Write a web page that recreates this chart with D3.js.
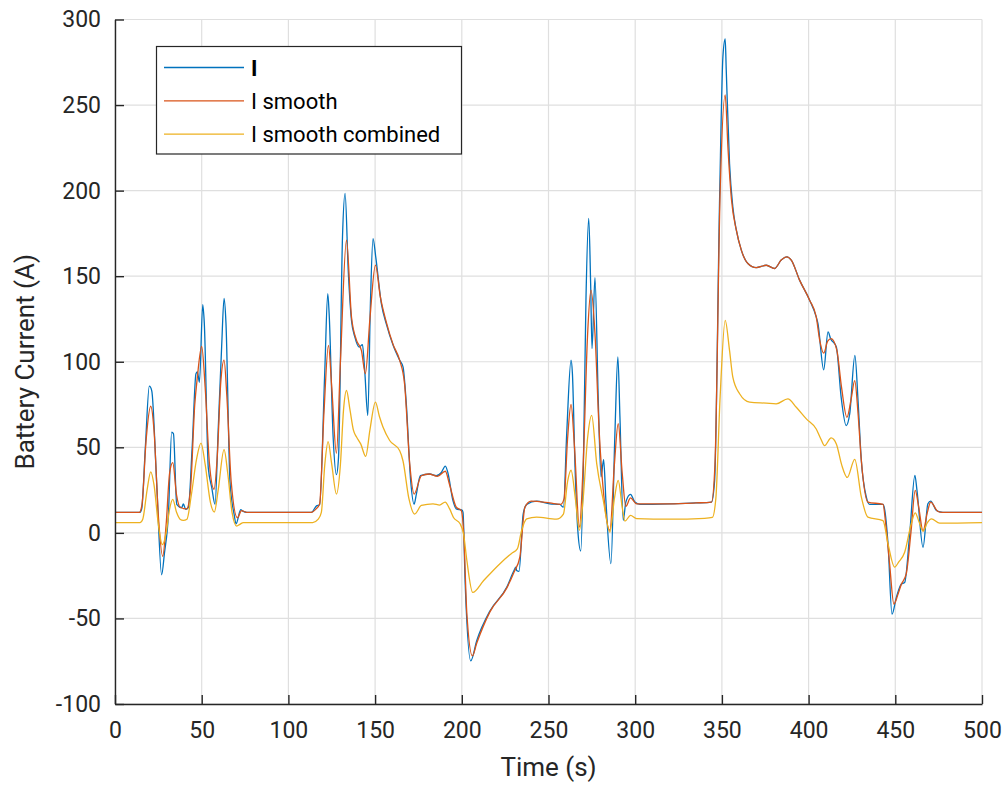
<!DOCTYPE html>
<html>
<head>
<meta charset="utf-8">
<script src="https://cdn.jsdelivr.net/npm/d3@7"></script>
<style>
  body { margin: 0; background: #fff; }
  svg text { font-family: Roboto, "Liberation Sans", Arial, sans-serif; fill: #262626; }
</style>
</head>
<body>
<div id="container"></div>
<script>
// data: [time (s), current (A)]
const currentRaw = [[0,12],[14.4,12],[15.4,14],[17.5,50],[19.8,85.7],[21.2,83],[24,30],[26.9,-24.5],[28.5,-12],[30.8,10.8],[32.7,58.8],[33.7,58],[35.6,16.7],[38.5,14.7],[39.4,17],[40.8,13.7],[42.3,14.7],[44.5,50],[46.7,93],[47.5,94],[48.7,88],[50.6,133.3],[51.5,122.5],[53.8,38],[55.8,26.5],[57.7,16.7],[59.5,60],[61.5,108.8],[62.9,137],[64,122.5],[66.3,30],[68.7,10.8],[69.8,5.3],[72.5,13.5],[73.7,12.7],[76,12],
  [113.3,12],[116.2,15.8],[118,16.4],[121,95],[122.7,139.8],[123.5,128],[125.8,56],[127.7,34],[128.9,44],[131.2,173],[132.7,198.4],[134.5,153.5],[136.4,124],[138.3,114.5],[140.8,108.6],[142.7,110],[144,95],[145.8,68.6],[147.3,134],[148.8,172],[150.4,161],[153.6,134],[156.5,122],[160.4,109.6],[164.2,100.8],[166.1,97],[168,75.4],[170.5,30.5],[172.5,16.8],[173.8,22.7],[176.1,33.4],[181.5,34.4],[185.3,33.4],[188.2,35.3],[190.5,39],[192,35],[194.9,18.8],[196.8,14],[200.1,13.3],[200.7,12],[201.9,-28],[205.2,-74.8],[208.6,-63],[216.3,-45.5],[225.9,-31.8],[230.1,-22],[231.2,-20],[231.6,-22],[233,-22.5],[235.4,11],[237.4,16.6],[243.1,18.5],[250.8,17],[256.5,16.6],[258.6,15],[260.5,58],[263,100.9],[263.8,93],[265.3,38.5],[266.9,1.5],[268.6,-10.6],[270.1,38.5],[271.6,136],[273.2,183.7],[274.3,145.7],[275.1,107.7],[276.8,149.2],[278.7,77.5],[280.3,32.7],[281.8,42.8],[283.1,19],[286,-18],[288.3,58],[290,102.8],[291.2,67.7],[293.1,7.3],[294.6,18],[297.3,22.5],[299.8,18],[302.7,16.7],[320,17],[335,17.5],[344,18],
  [345.8,30.5],[348.7,196.5],[350.6,278.5],[351.9,288.7],[352.5,270.7],[354.4,216],[356.3,190.6],[358.3,177],[361.2,165.2],[365,157.4],[369.8,155],[375.6,156.4],[380.4,154.5],[384.2,159.4],[387.5,161.3],[390,159.4],[394.8,147.7],[400.6,136],[404.4,126.2],[405.4,122.3],[408.7,95.3],[411.2,117.4],[412.7,113.5],[416,108.6],[418.8,79],[421.7,62.7],[423.7,69.5],[426.7,103.7],[428.5,77.5],[430.4,42.4],[433.3,20.9],[435.2,16.6],[442.9,16.6],[443.8,14],[445.8,-6.4],[448.1,-47.5],[450.6,-37.7],[453.5,-29.9],[455.4,-29],[458.3,-0.6],[461.3,33.6],[462.5,24.8],[466,-8.4],[468.8,17],[470.4,18.6],[473.7,13.1],[477.5,12],[500,12]];

const currentSmooth = [[0,12],[14,12],[15.5,16],[18,55],[20.6,74],[22.5,60],[25,10],[27.5,-13.7],[29.5,5],[31.5,35],[33.3,41],[35.5,22],[37.5,15],[41.3,14],[43.5,25],[46,75],[47.5,91],[50,109],[52,85],[54.5,40],[57.1,25.5],[59,45],[61,88],[62.9,101],[64.5,80],[67,30],[70.6,8.8],[73,13],[76,12],
  [113,12],[116,14],[118,16.8],[120.5,70],[123.1,109.6],[125,85],[127.7,46.5],[130,100],[133.5,171],[136.4,126],[139.3,112.5],[142.1,106.6],[144.4,93],[147,125],[150.2,156.5],[153,138],[156.5,123],[160.4,110],[164.2,100.8],[167,87],[170,40],[172.5,22.7],[176.7,33.4],[181,34.4],[186,33],[190.5,36],[193,28],[196.8,15],[199.7,13],[201,1.4],[202.9,-47],[206.1,-71.9],[208.6,-64.5],[216.3,-46],[225.9,-32.3],[230.1,-23],[233.5,-14],[236.4,15],[240,18.5],[250.8,17.5],[257.1,16.7],[259,20],[261,55],[263,75.1],[265,50],[267.8,3.4],[270,40],[272.5,115],[274.5,141.8],[276.8,116.5],[279.3,58],[281.6,24.9],[285.4,1.5],[288,40],[290.2,63.8],[292.5,35],[294.6,15.5],[297.3,20.4],[300.8,17],[320,17],[335,17.5],[344,18],
  [346,40],[349,200],[351.9,256],[353.5,225],[355.5,195],[358.3,177],[361.2,165.2],[365,157.4],[369.8,155],[375.6,156.4],[380.4,154.5],[384.2,159.4],[387.5,161.3],[390,159.4],[394.8,147.7],[400.6,136],[404.4,126.2],[406.5,112],[408.7,105],[411,112],[413,113.5],[416.3,106.6],[419,85],[422.1,67.5],[424.5,78],[426.6,89],[428.5,70],[430.4,42.4],[434.2,18],[442.9,16.6],[444.5,5],[446.7,-18],[449.2,-41.6],[451.5,-36],[453.5,-30],[456.3,-24],[459,0],[461.5,24.8],[463.5,15],[466,1],[468.5,12],[470.4,18],[474.6,12.5],[477,12],[500,12]];

const currentCombined = [[0,6],[14.4,6],[16,8],[18.5,25],[20.6,35.7],[22.5,28],[25,5],[27.3,-6.9],[29.5,0],[31.5,14],[33.3,19.6],[35.5,12],[37.5,8],[39.4,7.3],[41.5,8],[44,22],[47,43],[49.6,52.5],[52,40],[55,18],[57.3,12.2],[59.5,25],[62.9,48.6],[65,35],[67.5,12],[70.2,4],[72,5],[74,6],
  [114,6],[117.2,8],[119,12],[121,40],[122.9,53.3],[125,40],[127.7,22.7],[130,40],[131.8,72],[133.5,83.2],[135.5,72],[137.5,60],[139.3,56],[141.7,52],[144.6,44.7],[147,60],[150.2,76.4],[152.5,68],[154.6,61.7],[158.4,54],[164.2,48],[166.1,42],[169.5,20],[172.8,11],[176.7,16],[183.4,17],[187.2,16.2],[190.4,18],[193,14],[195.2,9],[199,5.3],[201,-0.6],[202.9,-16],[206.3,-34.8],[212.5,-28],[222,-18],[228.7,-12],[232,-9.4],[234.5,1.4],[237.4,8.2],[243.1,9.2],[254.6,8],[258.6,11],[261,30],[263,36.6],[265.5,20],[267.8,1.5],[270,20],[272.5,55],[274.9,68.7],[277.8,40.5],[281.6,19],[285.4,0.4],[288,20],[290.2,30.7],[292.5,15],[294.1,6.9],[297.3,10.2],[300.8,8.3],[320,8],[340,8.5],[344.5,9],
  [346.5,20],[349,80],[351.9,124.2],[354.4,106.6],[356.3,91],[360.2,81.3],[366,76.4],[375.6,75.8],[381.3,75.4],[388,78.3],[392.9,73.4],[398.7,66.6],[404.4,60.7],[407,55],[409.2,51],[413,55.5],[416,52],[419,40],[422.3,32.4],[426.6,43],[430.4,21],[434.2,9.2],[442.9,7.2],[445.8,-6.4],[449.6,-20],[452,-17],[455.4,-11.3],[459.2,5.3],[461.5,11.7],[463.5,7],[466,1],[468.5,6],[470.8,8.2],[475.6,5.7],[500,6]];

const xTicks = [0, 50, 100, 150, 200, 250, 300, 350, 400, 450, 500];
const yTicks = [-100, -50, 0, 50, 100, 150, 200, 250, 300];
const seriesNames = ["I", "I smooth", "I smooth combined"];
const seriesColors = ["#0072BD", "#D95319", "#EDB120"];

// set dimensions
const w = 1006;
const h = 785;
const plotLeft = 115, plotRight = 982, plotTop = 19.5, plotBottom = 704;

const xScale = d3.scaleLinear().domain([0, 500]).range([plotLeft, plotRight]);
const yScale = d3.scaleLinear().domain([-100, 300]).range([plotBottom, plotTop]);

const svg = d3.select("#container")
              .append("svg")
              .attr("width", w)
              .attr("height", h);

// grid
svg.append("g")
   .selectAll("line")
   .data(xTicks)
   .enter()
   .append("line")
   .attr("x1", (d) => xScale(d)).attr("x2", (d) => xScale(d))
   .attr("y1", plotTop).attr("y2", plotBottom)
   .attr("stroke", "#dfdfdf").attr("stroke-width", 1.2);

svg.append("g")
   .selectAll("line")
   .data(yTicks)
   .enter()
   .append("line")
   .attr("x1", plotLeft).attr("x2", plotRight)
   .attr("y1", (d) => yScale(d)).attr("y2", (d) => yScale(d))
   .attr("stroke", "#dfdfdf").attr("stroke-width", 1.2);

// lines
const line = d3.line()
               .x((d) => xScale(d[0]))
               .y((d) => yScale(d[1]))
               .curve(d3.curveMonotoneX);

[currentRaw, currentSmooth, currentCombined].forEach(function(data, i){
    svg.append("path")
       .datum(data)
       .attr("fill", "none")
       .attr("stroke", seriesColors[i])
       .attr("stroke-width", 1.3)
       .attr("stroke-linejoin", "round")
       .attr("d", line);
});

// axes (plain hyphen for negatives, like the original)
const xAxis = d3.axisBottom(xScale).tickValues(xTicks).tickFormat((d) => String(d))
                .tickSizeInner(-9).tickSizeOuter(0).tickPadding(13);
const yAxis = d3.axisLeft(yScale).tickValues(yTicks).tickFormat((d) => String(d))
                .tickSizeInner(-9).tickSizeOuter(0).tickPadding(14);

const gx = svg.append("g")
   .attr("transform", "translate(0, " + plotBottom + ")")
   .call(xAxis);
const gy = svg.append("g")
   .attr("transform", "translate(" + plotLeft + ", 0)")
   .call(yAxis);

[gx, gy].forEach(function(g){
    g.selectAll("path, line").attr("stroke", "#262626").attr("stroke-width", 1.4);
    g.selectAll("text").style("font-size", "23px").attr("fill", "#262626");
});
gx.selectAll("text").attr("dy", "0.9em");

// axis labels
svg.append("text")
   .attr("x", (plotLeft + plotRight) / 2)
   .attr("y", 776)
   .attr("text-anchor", "middle")
   .style("font-size", "26px")
   .text("Time (s)");

svg.append("text")
   .attr("transform", "translate(34, " + ((plotTop + plotBottom) / 2) + ") rotate(-90)")
   .attr("text-anchor", "middle")
   .style("font-size", "26px")
   .text("Battery Current (A)");

// legend
svg.append("rect")
   .attr("x", 156.5).attr("y", 46.5)
   .attr("width", 305).attr("height", 107.5)
   .attr("fill", "#fff")
   .attr("stroke", "#262626")
   .attr("stroke-width", 1.2);

seriesNames.forEach(function(name, i){
    const cy = 67.5 + i * 33.3;
    svg.append("line")
       .attr("x1", 164).attr("x2", 244)
       .attr("y1", cy).attr("y2", cy)
       .attr("stroke", seriesColors[i])
       .attr("stroke-width", 1.3);
    svg.append("text")
       .attr("x", 251)
       .attr("y", cy + 8)
       .style("font-size", "22px")
       .style("font-weight", i === 0 ? "bold" : "normal")
       .style("fill", "#000")
       .text(name);
});
</script>
</body>
</html>
